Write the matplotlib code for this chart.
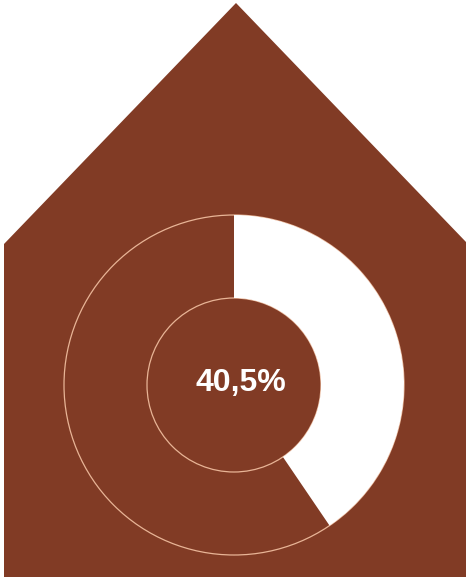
import matplotlib
matplotlib.use("Agg")
import matplotlib.pyplot as plt
from matplotlib.patches import Polygon, Circle

# Data
share_value = 40.5
rest_value = 100 - share_value
label_text = "40,5%"

BROWN = "#813B25"
OUTLINE = "#E8B496"

W, H = 466, 577
fig = plt.figure(figsize=(W / 100, H / 100), dpi=100)
fig.patch.set_facecolor("white")
ax = fig.add_axes([0, 0, 1, 1])

# House shape (pixel coords, y flipped)
house = Polygon([(4, 0), (4, H - 244), (236, H - 3), (466, H - 242), (470, H - 246), (470, 0)],
                closed=True, facecolor=BROWN, edgecolor="none")
ax.add_patch(house)

cx, cy = 234, H - 385
r_out, r_in = 170, 87

# outline circles
ax.add_patch(Circle((cx, cy), r_out, facecolor="none", edgecolor=OUTLINE, lw=0.9, zorder=2))
ax.add_patch(Circle((cx, cy), r_in, facecolor="none", edgecolor=OUTLINE, lw=0.9, zorder=2))

wedges, _ = ax.pie([share_value, rest_value], colors=["white", "none"], startangle=90,
                   counterclock=False, radius=r_out, center=(cx, cy),
                   wedgeprops=dict(width=r_out - r_in, edgecolor="none", linewidth=0))
for w in wedges:
    w.set_zorder(3)

ax.text(cx + 7, cy + 2, label_text, color="white", fontsize=23, fontweight="bold",
        family=["Liberation Sans", "DejaVu Sans"], ha="center", va="center", zorder=4)

ax.set_xlim(0, W)
ax.set_ylim(0, H)
ax.set_aspect("auto")
ax.axis("off")
fig.savefig("out.png", dpi=100, facecolor="white")
